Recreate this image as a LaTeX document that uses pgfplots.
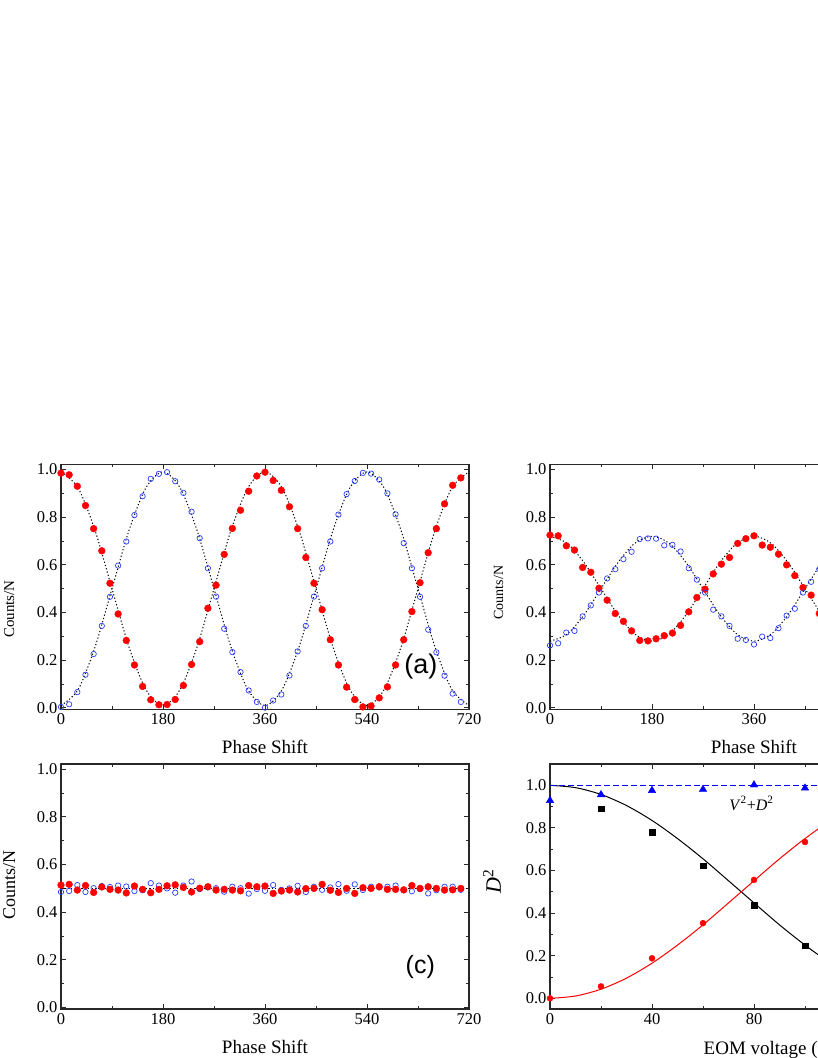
\documentclass[border=0pt]{standalone}
\usepackage{fontspec}
\setmainfont{Liberation Serif}
\newfontfamily\arial{Liberation Sans}
\usepackage{pgfplots}
\usepackage{pgfplotstable}
\pgfplotsset{compat=1.18}

\definecolor{ptred}{RGB}{255,0,0}
\definecolor{ptblue}{RGB}{40,60,255}
\definecolor{triblue}{RGB}{0,0,255}
\definecolor{spine}{RGB}{40,40,40}

% panel (a): phase, red, blue
\pgfplotstableread{
x r b
0 0.985 0.004
14.4 0.978 0.015
28.8 0.930 0.066
43.2 0.849 0.139
57.6 0.752 0.226
72 0.659 0.344
86.4 0.523 0.466
100.8 0.394 0.597
115.2 0.283 0.698
129.6 0.180 0.809
144 0.090 0.888
158.4 0.034 0.961
172.8 0.013 0.982
187.2 0.014 0.989
201.6 0.035 0.951
216 0.094 0.902
230.4 0.182 0.823
244.8 0.278 0.712
259.2 0.418 0.586
273.6 0.515 0.467
288 0.644 0.332
302.4 0.753 0.234
316.8 0.829 0.150
331.2 0.909 0.073
345.6 0.973 0.025
360 0.989 0.001
374.4 0.954 0.031
388.8 0.913 0.056
403.2 0.844 0.136
417.6 0.752 0.237
432 0.631 0.344
446.4 0.523 0.467
460.8 0.412 0.586
475.2 0.286 0.698
489.6 0.180 0.811
504 0.087 0.897
518.4 0.035 0.952
532.8 0.004 0.986
547.2 0.008 0.983
561.6 0.042 0.958
576 0.088 0.900
590.4 0.180 0.812
604.8 0.286 0.691
619.2 0.404 0.586
633.6 0.525 0.466
648 0.651 0.328
662.4 0.752 0.233
676.8 0.856 0.135
691.2 0.934 0.060
705.6 0.965 0.025
}\dataA

% panel (b)
\pgfplotstableread{
x r b
0 0.725 0.262
14.4 0.722 0.271
28.8 0.680 0.316
43.2 0.662 0.323
57.6 0.589 0.384
72 0.569 0.430
86.4 0.502 0.484
100.8 0.452 0.543
115.2 0.396 0.582
129.6 0.363 0.624
144 0.323 0.655
158.4 0.283 0.708
172.8 0.281 0.711
187.2 0.290 0.710
201.6 0.303 0.682
216 0.314 0.684
230.4 0.346 0.656
244.8 0.403 0.586
259.2 0.463 0.538
273.6 0.498 0.484
288 0.562 0.412
302.4 0.603 0.384
316.8 0.631 0.344
331.2 0.690 0.290
345.6 0.710 0.285
360 0.722 0.266
374.4 0.683 0.299
388.8 0.674 0.293
403.2 0.645 0.334
417.6 0.600 0.387
432 0.555 0.416
446.4 0.505 0.484
460.8 0.473 0.529
475.2 0.396 0.582
489.6 0.360 0.620
}\dataB

% panel (c)
\pgfplotstableread{
x r b
0 0.514 0.485
14.4 0.517 0.489
28.8 0.493 0.514
43.2 0.512 0.485
57.6 0.483 0.501
72 0.506 0.510
86.4 0.496 0.506
100.8 0.493 0.512
115.2 0.481 0.508
129.6 0.510 0.489
144 0.496 0.492
158.4 0.482 0.522
172.8 0.496 0.512
187.2 0.511 0.500
201.6 0.515 0.482
216 0.504 0.512
230.4 0.485 0.529
244.8 0.501 0.497
259.2 0.507 0.504
273.6 0.493 0.501
288 0.496 0.486
302.4 0.493 0.507
316.8 0.490 0.501
331.2 0.512 0.478
345.6 0.507 0.497
360 0.510 0.490
374.4 0.479 0.514
388.8 0.489 0.494
403.2 0.493 0.500
417.6 0.485 0.511
432 0.499 0.485
446.4 0.500 0.507
460.8 0.517 0.494
475.2 0.492 0.504
489.6 0.483 0.518
504 0.500 0.490
518.4 0.479 0.517
532.8 0.503 0.493
547.2 0.500 0.507
561.6 0.507 0.504
576 0.496 0.507
590.4 0.496 0.512
604.8 0.494 0.492
619.2 0.512 0.488
633.6 0.500 0.497
648 0.507 0.479
662.4 0.500 0.492
676.8 0.493 0.507
691.2 0.494 0.507
705.6 0.500 0.494
}\dataC

% cos^2 fits, read at 30 deg steps
\pgfplotstableread{
x ra ba rb bb
0 0.990 0.010 0.720 0.280
30 0.924 0.076 0.691 0.309
60 0.745 0.255 0.610 0.390
90 0.500 0.500 0.500 0.500
120 0.255 0.745 0.390 0.610
150 0.076 0.924 0.309 0.691
180 0.010 0.990 0.280 0.720
210 0.076 0.924 0.309 0.691
240 0.255 0.745 0.390 0.610
270 0.500 0.500 0.500 0.500
300 0.745 0.255 0.610 0.390
330 0.924 0.076 0.691 0.309
360 0.990 0.010 0.720 0.280
390 0.924 0.076 0.691 0.309
420 0.745 0.255 0.610 0.390
450 0.500 0.500 0.500 0.500
480 0.255 0.745 0.390 0.610
510 0.076 0.924 0.309 0.691
540 0.010 0.990 0.280 0.720
570 0.076 0.924 0.309 0.691
600 0.255 0.745 0.390 0.610
630 0.500 0.500 0.500 0.500
660 0.745 0.255 0.610 0.390
690 0.924 0.076 0.691 0.309
720 0.990 0.010 0.720 0.280
}\fits

% panel (d) fit curves
\pgfplotstableread{
x k r
0 1.000 0.000
10 0.989 0.011
20 0.957 0.043
30 0.905 0.095
40 0.835 0.165
50 0.750 0.250
60 0.655 0.345
70 0.552 0.448
80 0.448 0.552
90 0.345 0.655
100 0.250 0.750
110 0.165 0.835
120 0.095 0.905
130 0.043 0.957
140 0.011 0.989
150 0.000 1.000
160 0.011 0.989
}\fitD

\pgfplotsset{
  panel/.style={
    scale only axis, width=408pt, height=245pt, anchor=south west,
    axis line style={line width=1.1pt, spine},
    tick align=inside, major tick length=5pt, minor tick length=3pt,
    tick style={line width=0.9pt, spine},
    tick label style={font=\fontsize{16.5}{18}\selectfont},
    /pgf/number format/assume math mode=true,
    yticklabel style={/pgf/number format/.cd, fixed, fixed zerofill, precision=1},
    xticklabel style={yshift=-1pt, /pgf/number format/.cd, fixed},
    ytick={0,0.2,0.4,0.6,0.8,1.0}, minor y tick num=1,
  },
  phase/.style={panel,
    xmin=0, xmax=720, ymin=-0.006, ymax=1.022,
    xtick={0,180,360,540,720}, minor x tick num=1,
    xlabel={Phase Shift},
    xlabel style={at={(axis description cs:0.5,-0.181)}, anchor=base,
      font=\fontsize{19}{21}\selectfont},
  },
  redpt/.style={only marks, mark=*, mark size=3.4pt, mark options={draw=ptred, fill=ptred}},
  bluept/.style={only marks, mark=o, mark size=2.7pt, mark options={draw=ptblue, line width=0.7pt}},
  fitline/.style={black, line width=1pt, dash pattern=on 1.2pt off 2.2pt, smooth},
}

\begin{document}
\begin{tikzpicture}
\useasboundingbox (0,0) rectangle (817pt,1058pt);

% (a)
\begin{axis}[phase, at={(61pt,348.7pt)},
  ylabel={Counts/N},
  ylabel style={at={(axis description cs:-0.127,0.409)}, anchor=center,
    font=\fontsize{15}{17}\selectfont}]
\addplot[fitline] table[x=x, y=ra] {\fits};
\addplot[fitline] table[x=x, y=ba] {\fits};
\addplot[redpt] table[x=x, y=r] {\dataA};
\addplot[bluept] table[x=x, y=b] {\dataA};
\node at (axis cs:635,0.174) {\arial\fontsize{27}{30}\selectfont (a)};
\end{axis}

% (b)
\begin{axis}[phase, at={(550pt,348.7pt)},
  ylabel={Counts/N},
  ylabel style={at={(axis description cs:-0.126,0.476)}, anchor=center,
    font=\fontsize{14}{16}\selectfont}]
\addplot[fitline] table[x=x, y=rb] {\fits};
\addplot[fitline] table[x=x, y=bb] {\fits};
\addplot[redpt] table[x=x, y=r] {\dataB};
\addplot[bluept] table[x=x, y=b] {\dataB};
\end{axis}

% (c)
\begin{axis}[phase, at={(61pt,49pt)},
  ylabel={Counts/N},
  ylabel style={at={(axis description cs:-0.127,0.508)}, anchor=center,
    font=\fontsize{18}{20}\selectfont}]
\addplot[fitline] coordinates {(0,0.5) (720,0.5)};
\addplot[bluept] table[x=x, y=b] {\dataC};
\addplot[redpt] table[x=x, y=r] {\dataC};
\node at (axis cs:634,0.172) {\arial\fontsize{25}{28}\selectfont (c)};
\end{axis}

% (d)
\begin{axis}[panel, at={(550pt,49pt)},
  xmin=0, xmax=160, ymin=-0.05, ymax=1.1,
  xtick={0,40,80,120,160}, minor x tick num=1,
  xlabel={EOM voltage (V)},
  xlabel style={at={(axis description cs:0.368,-0.184)}, anchor=base west,
    font=\fontsize{19}{21}\selectfont},
  ylabel={\textit{D}\textsuperscript{2}},
  ylabel style={at={(axis description cs:-0.142,0.522)}, anchor=center,
    font=\fontsize{22}{24}\selectfont}]
\addplot[black, line width=1pt, smooth] table[x=x, y=k] {\fitD};
\addplot[ptred, line width=1pt, smooth] table[x=x, y=r] {\fitD};
\addplot[color=triblue, line width=1.4pt, dash pattern=on 6pt off 3pt] coordinates {(0,1) (160,1)};
\addplot[only marks, mark=triangle*, mark size=4.3pt, mark options={draw=triblue, fill=triblue}] coordinates {
(0,0.929) (20,0.956) (40,0.976) (60,0.981) (80,1.002) (100,0.987)};
\addplot[only marks, mark=square*, mark size=2.8pt, black] coordinates {
(20,0.890) (40,0.781) (60,0.622) (80,0.437) (100,0.248)};
\addplot[only marks, mark=*, mark size=3pt, mark options={draw=ptred, fill=ptred}] coordinates {
(0,0.000) (20,0.056) (40,0.188) (60,0.353) (80,0.556) (100,0.734)};
\node at (axis cs:79,0.915) {\fontsize{16}{18}\selectfont
  \textit{V}\textsuperscript{2}+\textit{D}\textsuperscript{2}};
\end{axis}
\end{tikzpicture}
\end{document}
